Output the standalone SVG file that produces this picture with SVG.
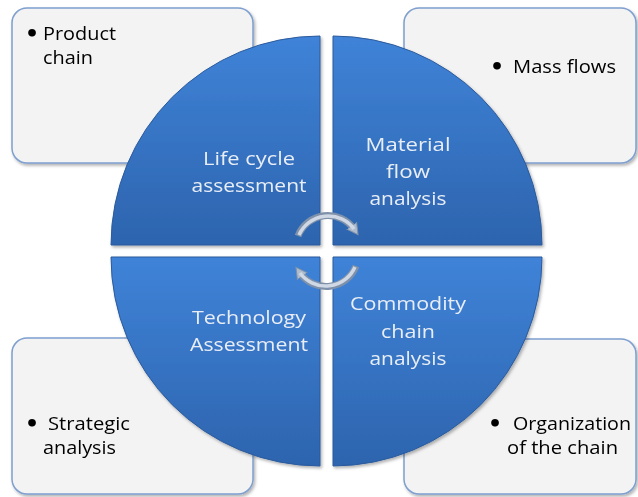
<svg xmlns="http://www.w3.org/2000/svg" width="638" height="497" viewBox="0 0 638 497">
<style>
.box{fill:#f3f3f3;stroke:#7e9fcf;stroke-width:1.5}
.q{stroke:#2b5a9c;stroke-width:1}
.qt{font-family:"Open Sans","Liberation Sans",sans-serif;font-size:19px;fill:#e9eef6;text-anchor:middle}
.bt{font-family:"Open Sans","Liberation Sans",sans-serif;font-size:19px;fill:#000}
.bu{font-family:"DejaVu Sans",sans-serif;font-size:22px;font-weight:bold;fill:#000}
.arrO{fill:none;stroke:#7f91aa;stroke-width:7}
.arrI{fill:none;stroke:#cfd8e4;stroke-width:3.5}
</style>
<defs>
<linearGradient id="gq" x1="0" y1="0" x2="0" y2="1">
<stop offset="0" stop-color="#3f83d8"/>
<stop offset="1" stop-color="#2d64ae"/>
</linearGradient>
<filter id="sh" x="-10%" y="-10%" width="120%" height="120%">
<feDropShadow dx="1.5" dy="2" stdDeviation="1.5" flood-color="#000" flood-opacity="0.3"/>
</filter>
<marker id="ah" markerUnits="userSpaceOnUse" markerWidth="14" markerHeight="14" refX="4" refY="7" orient="auto">
<path d="M0,1 L11,7 L0,13 Z" fill="#aebccd" stroke="#7f91aa" stroke-width="1"/>
</marker>
</defs>

<g id="box-product" filter="url(#sh)">
<rect class="box" x="12" y="8" width="241" height="155" rx="15"/>
<text class="bu" x="25" y="41">•</text>
<text class="bt"><tspan x="43" y="40" textLength="73" lengthAdjust="spacingAndGlyphs">Product</tspan><tspan x="43" y="64" textLength="50" lengthAdjust="spacingAndGlyphs">chain</tspan></text>
</g>
<g id="box-mass" filter="url(#sh)">
<rect class="box" x="404" y="8" width="232" height="155" rx="15"/>
<text class="bu" x="490" y="74">•</text>
<text class="bt"><tspan x="513" y="73" textLength="103" lengthAdjust="spacingAndGlyphs">Mass flows</tspan></text>
</g>
<g id="box-strategic" filter="url(#sh)">
<rect class="box" x="12" y="338" width="241" height="156" rx="15"/>
<text class="bu" x="25" y="431">•</text>
<text class="bt"><tspan x="48" y="430" textLength="82" lengthAdjust="spacingAndGlyphs">Strategic</tspan><tspan x="43" y="454" textLength="73" lengthAdjust="spacingAndGlyphs">analysis</tspan></text>
</g>
<g id="box-organization" filter="url(#sh)">
<rect class="box" x="404" y="339" width="232" height="155" rx="15"/>
<text class="bu" x="488" y="431">•</text>
<text class="bt"><tspan x="513" y="430" textLength="118" lengthAdjust="spacingAndGlyphs">Organization</tspan><tspan x="507" y="454" textLength="111" lengthAdjust="spacingAndGlyphs">of the chain</tspan></text>
</g>

<g id="q-lca" filter="url(#sh)">
<path class="q" fill="url(#gq)" d="M320,245 L111,245 A209,209 0 0 1 320,36 Z"/>
<text class="qt"><tspan x="249" y="165" textLength="92" lengthAdjust="spacingAndGlyphs">Life cycle</tspan><tspan x="249" y="192" textLength="115" lengthAdjust="spacingAndGlyphs">assessment</tspan></text>
</g>
<g id="q-mfa" filter="url(#sh)">
<path class="q" fill="url(#gq)" d="M333,245 L333,36 A209,209 0 0 1 542,245 Z"/>
<text class="qt"><tspan x="408" y="151" textLength="85" lengthAdjust="spacingAndGlyphs">Material</tspan><tspan x="408" y="178" textLength="44" lengthAdjust="spacingAndGlyphs">flow</tspan><tspan x="408" y="205" textLength="77" lengthAdjust="spacingAndGlyphs">analysis</tspan></text>
</g>
<g id="q-ta" filter="url(#sh)">
<path class="q" fill="url(#gq)" d="M320,257 L320,466 A209,209 0 0 1 111,257 Z"/>
<text class="qt"><tspan x="249" y="324" textLength="114" lengthAdjust="spacingAndGlyphs">Technology</tspan><tspan x="249" y="351" textLength="118" lengthAdjust="spacingAndGlyphs">Assessment</tspan></text>
</g>
<g id="q-cca" filter="url(#sh)">
<path class="q" fill="url(#gq)" d="M333,257 L542,257 A209,209 0 0 1 333,466 Z"/>
<text class="qt"><tspan x="408" y="310" textLength="116" lengthAdjust="spacingAndGlyphs">Commodity</tspan><tspan x="408" y="338" textLength="54" lengthAdjust="spacingAndGlyphs">chain</tspan><tspan x="408" y="365" textLength="77" lengthAdjust="spacingAndGlyphs">analysis</tspan></text>
</g>

<g id="connectors">
<path class="arrO" d="M298,236 A32,32 0 0 1 354,229" marker-end="url(#ah)"/>
<path class="arrI" d="M299,235 A32,32 0 0 1 354,229"/>
<path class="arrO" d="M356,266 A32,32 0 0 1 300,273" marker-end="url(#ah)"/>
<path class="arrI" d="M355,267 A32,32 0 0 1 300,273"/>
</g>
</svg>
